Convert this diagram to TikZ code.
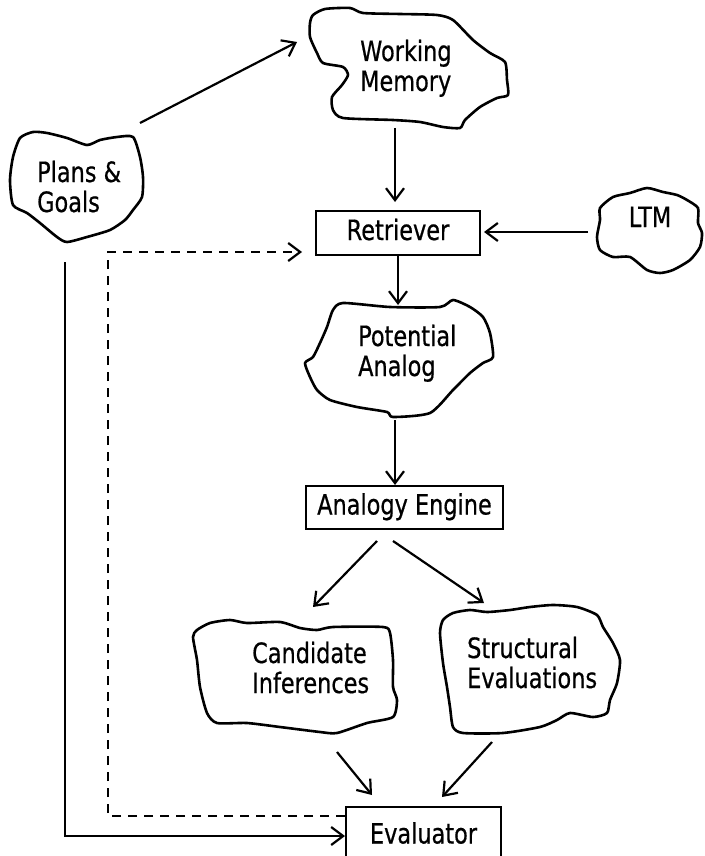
\documentclass[tikz,border=0pt]{standalone}
\usepackage{fontspec}
\setmainfont{DejaVu Sans}[FakeStretch=0.8, FakeBold=0.6]
\usetikzlibrary{arrows.meta}
\begin{document}
\begin{tikzpicture}[x=1pt,y=-1pt,
  every node/.style={font=\fontsize{28}{30}\selectfont, inner sep=0pt},
  lbl/.style={align=left, anchor=base west},
  blob/.style={draw, line width=2.6pt, line join=round},
  boxed/.style={draw, line width=2pt, text height=20pt, text depth=6pt},
  flow/.style={line width=2.2pt, -{Straight Barb[length=12pt,width=18pt]}},
  dashflow/.style={flow, dash pattern=on 9pt off 7pt}]
\useasboundingbox (0,0) rectangle (704,856);

% cloud-like outlines
\draw[blob] plot[smooth cycle, tension=0.4] coordinates {(313,15) (325,9) (350,8) (363,13) (400,14) (437,15) (453,20) (473,40) (490,53) (505,62) (507,80) (508,95) (497,98) (480,107) (465,120) (460,128) (443,127) (420,122) (393,120) (343,118) (333,110) (332,97) (342,85) (348,75) (343,67) (323,63) (317,53) (310,37) (310,23)};
\draw[blob] plot[smooth cycle, tension=0.4] coordinates {(20,138) (33,132) (47,133) (67,138) (87,145) (100,140) (117,137) (133,137) (140,157) (143,177) (142,197) (133,210) (125,220) (110,230) (87,237) (67,242) (57,237) (40,223) (27,213) (13,205) (10,180) (13,157)};
\draw[blob] plot[smooth cycle, tension=0.4] coordinates {(600,208) (613,197) (630,193) (647,188) (663,192) (677,195) (687,200) (698,208) (698,223) (702,233) (700,247) (690,260) (673,270) (660,273) (647,270) (630,257) (613,257) (600,250) (597,237) (600,220)};
\draw[blob] plot[smooth cycle, tension=0.4] coordinates {(333,310) (343,303) (390,307) (440,307) (453,300) (470,307) (483,317) (490,333) (493,357) (483,363) (470,373) (453,390) (430,413) (393,417) (387,412) (357,407) (330,400) (317,390) (310,377) (305,363) (313,357) (320,343) (327,327)};
\draw[blob] plot[smooth cycle, tension=0.4] coordinates {(197,630) (210,623) (230,620) (247,623) (280,622) (300,628) (317,630) (333,627) (383,627) (390,633) (393,660) (393,687) (397,700) (393,717) (367,723) (337,733) (320,732) (280,727) (247,723) (217,723) (207,713) (200,687) (197,660) (193,637)};
\draw[blob] plot[smooth cycle, tension=0.4] coordinates {(443,620) (453,613) (470,610) (487,612) (510,610) (530,607) (553,605) (577,607) (597,615) (603,627) (613,643) (620,660) (617,683) (610,700) (607,713) (593,717) (570,713) (557,720) (540,727) (503,733) (463,733) (453,727) (450,707) (447,687) (443,663) (440,633)};

% labels inside the clouds (anchored at the last line's baseline)
\node[lbl] (wm) at (360,91) {Working\\Memory};
\node[lbl] (pg) at (37,212) {Plans \&\\Goals};
\node[anchor=base] (ltm) at (650,227) {LTM};
\node[lbl] (pa) at (358,376) {Potential\\Analog};
\node[lbl] (ci) at (252,693) {Candidate\\Inferences};
\node[lbl] (se) at (467,688) {Structural\\Evaluations};

% process boxes
\node[boxed, minimum width=164pt, minimum height=44pt] (ret) at (398,233) {Retriever};
\node[boxed, minimum width=197pt, minimum height=43pt] (ae) at (404.5,507.5) {Analogy Engine};
\node[boxed, minimum width=155pt, minimum height=55pt, text depth=2pt] (ev) at (423.5,834.5) {Evaluator};

% connector ends
\coordinate (pg-ne) at (140,123);
\coordinate (wm-w) at (297,42);
\coordinate (wm-s) at (395,128);
\coordinate (ret-n) at (395,202);
\coordinate (ltm-w) at (588,232);
\coordinate (ret-e) at (484,232);
\coordinate (pa-n) at (398,305);
\coordinate (pa-s) at (395,420);
\coordinate (ae-n) at (395,485);
\coordinate (ae-sw) at (377,541);
\coordinate (ci-n) at (313,607);
\coordinate (ae-se) at (393,541);
\coordinate (se-n) at (484,603);
\coordinate (ci-s) at (337,752);
\coordinate (ev-nw) at (372,795);
\coordinate (se-s) at (492,742);
\coordinate (ev-ne) at (442,797);
\coordinate (pg-s) at (65,262);
\coordinate (fb-corner) at (108,252);
\coordinate (ret-w) at (302,252);

% connectors
\draw[flow] (pg-ne) -- (wm-w);
\draw[flow] (wm-s) -- (ret-n);
\draw[flow] (ltm-w) -- (ret-e);
\draw[flow] (ret.south -| pa-n) -- (pa-n);
\draw[flow] (pa-s) -- (ae-n);
\draw[flow] (ae-sw) -- (ci-n);
\draw[flow] (ae-se) -- (se-n);
\draw[flow] (ci-s) -- (ev-nw);
\draw[flow] (se-s) -- (ev-ne);
\draw[flow] (pg-s) |- ([yshift=-1.5pt]ev.west);
\draw[dashflow] ([yshift=18.5pt]ev.west) -| (fb-corner) -- (ret-w);
\end{tikzpicture}
\end{document}
